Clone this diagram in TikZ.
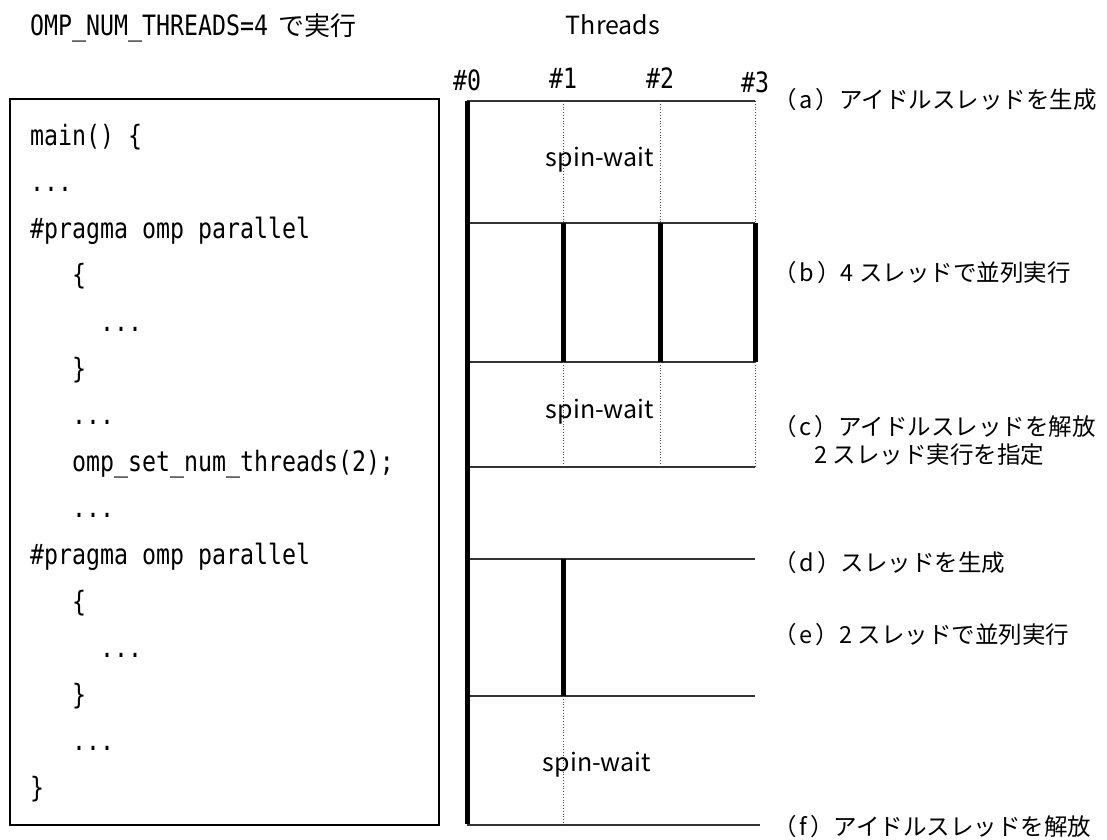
\documentclass[tikz,border=0pt]{standalone}
\usepackage{fontspec}
\setmainfont{Noto Sans CJK JP}
\newfontfamily\codefont[FakeStretch=0.83]{DejaVu Sans Mono}
\usetikzlibrary{positioning}

\newcommand{\us}{\textunderscore}
\newcommand{\phaseno}[1]{（\hspace{3pt}#1\hspace{3pt}）}

\tikzset{
    codeline/.style = {anchor=base west, inner sep=1pt, font=\codefont\fontsize{28}{28}\selectfont},
    threadno/.style = {inner sep=0pt, font=\codefont\fontsize{28}{28}\selectfont},
    phase/.style    = {anchor=west, inner sep=0pt, font=\fontsize{23.5}{28}\selectfont},
    spinlabel/.style= {inner sep=0pt, font=\fontsize{25}{25}\selectfont},
    level/.style    = {line width=1.3pt, black!80},
    idle/.style     = {dotted, line width=0.8pt, black!70},
    busy/.style     = {line width=5pt},
}

\begin{document}
\begin{tikzpicture}[x=1pt, y=-1pt]
    \useasboundingbox (0,0) rectangle (1107,839);

    % header
    \node[codeline] (Env) at (29,35)
        {OMP\us NUM\us THREADS=4\hspace{10pt}{\rmfamily\fontsize{26}{26}\selectfont で実行}};
    \node[spinlabel] (Threads) at (613,25) {Threads};

    % source code
    \node[draw, line width=2pt, anchor=north west, minimum width=429pt, minimum height=726pt] (Code) at (9,98) {};
    \node[codeline] (L0)  at (29,145)   {main() \{};
    \node[codeline] (L1)  at (29,191.6) {...};
    \node[codeline] (L2)  at (29,238.2) {\#pragma omp parallel};
    \node[codeline] (L3)  at (71,284.8) {\{};
    \node[codeline] (L4)  at (99,331.4) {...};
    \node[codeline] (L5)  at (71,378)   {\}};
    \node[codeline] (L6)  at (71,424.6) {...};
    \node[codeline] (L7)  at (71,471.2) {omp\us set\us num\us threads(2);};
    \node[codeline] (L8)  at (71,517.8) {...};
    \node[codeline] (L9)  at (29,564.4) {\#pragma omp parallel};
    \node[codeline] (L10) at (71,611)   {\{};
    \node[codeline] (L11) at (99,657.6) {...};
    \node[codeline] (L12) at (71,704.2) {\}};
    \node[codeline] (L13) at (71,750.8) {...};
    \node[codeline] (L14) at (29,797.4) {\}};

    % thread heads
    \node[threadno] (T0) at (467,80) {\#0};
    \node[threadno] (T1) at (563,78) {\#1};
    \node[threadno] (T2) at (660,78) {\#2};
    \node[threadno] (T3) at (755,82) {\#3};

    % phase borders
    \coordinate (r0) at (467,101);
    \coordinate (r1) at (467,223);
    \coordinate (r2) at (467,362);
    \coordinate (r3) at (467,467);
    \coordinate (r4) at (467,559);
    \coordinate (r5) at (467,696);
    \coordinate (r6) at (467,825);

    \draw[level] (r0) -- (T3 |- r0);
    \draw[level] (r1) -- (T3 |- r1);
    \draw[level] (r2) -- (T3 |- r2);
    \draw[level] (r3) -- (T3 |- r3);
    \draw[level] (r4) -- (T3 |- r4);
    \draw[level] (r5) -- (T3 |- r5);
    \draw[level] (r6) -- ([xshift=5pt]T3 |- r6);

    % waiting threads
    \draw[idle] (T1 |- r0) -- (T1 |- r1);
    \draw[idle] (T2 |- r0) -- (T2 |- r1);
    \draw[idle] (T3 |- r0) -- (T3 |- r1);
    \draw[idle] (T1 |- r2) -- (T1 |- r3);
    \draw[idle] (T2 |- r2) -- (T2 |- r3);
    \draw[idle] (T3 |- r2) -- (T3 |- r3);
    \draw[idle] (T1 |- r5) -- (T1 |- r6);

    % running threads
    \draw[busy] (r0) -- ([yshift=1pt]r6);
    \draw[busy] (T1 |- r1) -- (T1 |- r2);
    \draw[busy] (T2 |- r1) -- (T2 |- r2);
    \draw[busy] (T3 |- r1) -- (T3 |- r2);
    \draw[busy] (T1 |- r4) -- (T1 |- r5);

    \node[spinlabel] (Spin1) at (600,160) {spin-wait};
    \node[spinlabel] (Spin2) at (600,412) {spin-wait};
    \node[spinlabel] (Spin3) at (597,765) {spin-wait};

    % phases
    \node[phase] (Pa)  at (773,100) {\phaseno{a}アイドルスレッドを生成};
    \node[phase] (Pb)  at (773,273) {\phaseno{b}4 スレッドで並列実行};
    \node[phase] (Pc)  at (773,427) {\phaseno{c}アイドルスレッドを解放};
    \node[phase] (Pc2) at (814,455) {2 スレッド実行を指定};
    \node[phase] (Pd)  at (773,563) {\phaseno{d}スレッドを生成};
    \node[phase] (Pe)  at (773,635) {\phaseno{e}2 スレッドで並列実行};
    \node[phase] (Pf)  at (773,827) {\phaseno{f}アイドルスレッドを解放};
\end{tikzpicture}
\end{document}
